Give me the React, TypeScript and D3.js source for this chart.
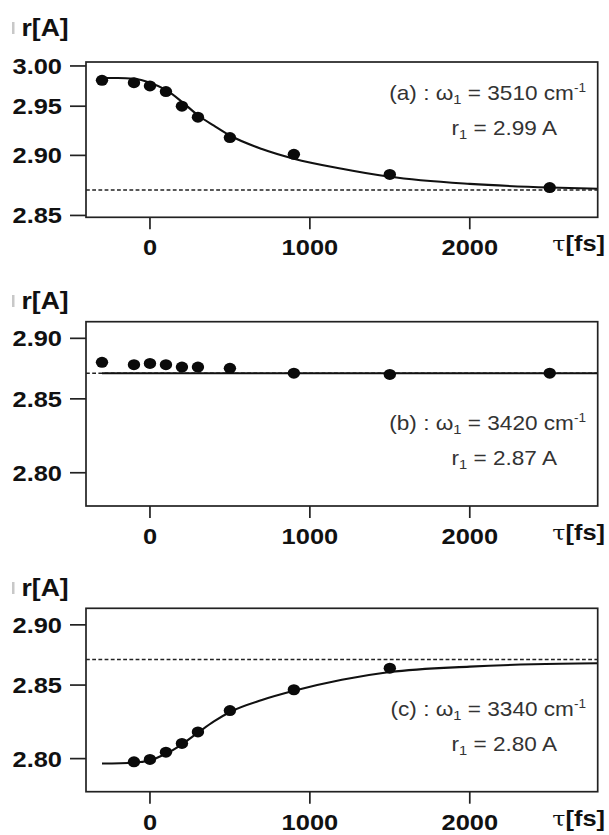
import React from "react";
import * as d3 from "d3";

const W = 609;
const H = 835;
const K = 4; // the r axis is linear in exp(-K r)
const SX = 1.13; // the original figure is stretched horizontally
const FONT = "'Liberation Sans', Arial, Helvetica, sans-serif";

// delay times (fs) and O-O distances (A)
const tauAB = [-300, -100, 0, 100, 200, 300, 500, 900, 1500, 2500];
const rA = [2.981, 2.978, 2.974, 2.967, 2.95, 2.938, 2.917, 2.901, 2.883, 2.872];
const rB = [2.879, 2.877, 2.878, 2.877, 2.875, 2.875, 2.874, 2.87, 2.869, 2.87];
const tauC = [-100, 0, 100, 200, 300, 500, 900, 1500];
const rC = [2.798, 2.7995, 2.804, 2.8095, 2.817, 2.8315, 2.8465, 2.863];

// fitted curves
const fitTauA = [-300, -200, -100, 0, 100, 200, 300, 400, 500, 700, 900, 1200, 1500, 2000, 2500, 2800];
const fitA = [2.984, 2.984, 2.983, 2.978, 2.969, 2.955, 2.94, 2.929, 2.919, 2.906, 2.897, 2.888, 2.881, 2.875, 2.872, 2.871];
const fitTauB = [-300, 2800];
const fitB = [2.87, 2.87];
const fitTauC = [-300, -100, 0, 100, 200, 300, 400, 500, 700, 900, 1200, 1500, 2000, 2400, 2800];
const fitC = [2.797, 2.7975, 2.799, 2.803, 2.809, 2.8165, 2.824, 2.8305, 2.839, 2.8457, 2.854, 2.86, 2.8643, 2.8662, 2.867];

const refR = 2.87;
const xTicks = [0, 1000, 2000];
const yTicksA = [3.0, 2.95, 2.9, 2.85];
const yTicksBC = [2.9, 2.85, 2.8];
const letters = ["a", "b", "c"];
const omegas = ["3510", "3420", "3340"];
const r1s = ["2.99", "2.87", "2.80"];

const LEFT = 86;
const RIGHT = 597.7;
const xScale = d3.scaleLinear().domain([-400, 2800]).range([LEFT, RIGHT]);

const panels = [
  { top: 62, bottom: 217.3, rLo: 2.8486, rHi: 3.0055, ticks: yTicksA, tau: tauAB, r: rA, fitTau: fitTauA, fit: fitA, titleY: 36, noteY: 99.5 },
  { top: 321.7, bottom: 506, rLo: 2.7804, rHi: 2.9157, ticks: yTicksBC, tau: tauAB, r: rB, fitTau: fitTauB, fit: fitB, titleY: 309, noteY: 430 },
  { top: 608.3, bottom: 791.7, rLo: 2.7804, rHi: 2.9157, ticks: yTicksBC, tau: tauC, r: rC, fitTau: fitTauC, fit: fitC, titleY: 596, noteY: 716 },
];

const T = ({ x, y, anchor = "start", size = 22, weight = "bold", fill = "#111", children }: any) => (
  <text
    transform={`translate(${x},${y}) scale(${SX},1)`}
    textAnchor={anchor}
    fontSize={size}
    fontWeight={weight}
    fontFamily={FONT}
    fill={fill}
  >
    {children}
  </text>
);

const Panel = ({ p, i }: any) => {
  const lin = d3
    .scaleLinear()
    .domain([Math.exp(-K * p.rLo), Math.exp(-K * p.rHi)])
    .range([p.bottom, p.top]);
  const y = (r: number) => lin(Math.exp(-K * r));
  const line = d3
    .line<number>()
    .x((t) => xScale(t))
    .y((_, j) => y(p.fit[j]))
    .curve(d3.curveMonotoneX);
  const clipId = `clip${i}`;

  return (
    <g>
      <defs>
        <clipPath id={clipId}>
          <rect x={LEFT} y={p.top} width={RIGHT - LEFT} height={p.bottom - p.top} />
        </clipPath>
      </defs>

      {/* axis title */}
      <rect x={12} y={p.titleY - 14} width={2.5} height={12} fill="#c8c8c8" />
      <T x={21.5} y={p.titleY} size={23.5}>r[A]</T>

      {/* y ticks */}
      {p.ticks.map((t: number) => (
        <g key={t}>
          <line x1={70} x2={LEFT} y1={y(t)} y2={y(t)} stroke="#222" strokeWidth={1.7} />
          <T x={62} y={y(t) + 8} anchor="end" size={22.5}>{t.toFixed(2)}</T>
        </g>
      ))}

      {/* x ticks */}
      {xTicks.map((t) => (
        <g key={t}>
          <line x1={xScale(t)} x2={xScale(t)} y1={p.bottom} y2={p.bottom + 12} stroke="#222" strokeWidth={1.7} />
          <T x={xScale(t)} y={p.bottom + 38} anchor="middle" size={22.5}>{t}</T>
        </g>
      ))}
      <text
        transform={`translate(605,${p.bottom + 34}) scale(${SX},1)`}
        textAnchor="end"
        fontSize={22.5}
        fill="#111"
      >
        <tspan fontFamily="'DejaVu Serif', 'Liberation Serif', serif" fontSize={21}>τ</tspan>
        <tspan fontFamily={FONT} fontWeight="bold">[fs]</tspan>
      </text>

      <g clipPath={`url(#${clipId})`}>
        <line
          x1={LEFT}
          x2={RIGHT}
          y1={y(refR)}
          y2={y(refR)}
          stroke="#222"
          strokeWidth={1.5}
          strokeDasharray="3.8,2.4"
        />
        <path d={line(p.fitTau) || ""} fill="none" stroke="#111" strokeWidth={2.1} />
        {p.tau.map((t: number, j: number) => (
          <ellipse key={t} cx={xScale(t)} cy={y(p.r[j])} rx={6.2} ry={5.5} fill="#0a0a0a" />
        ))}
      </g>

      <rect
        x={LEFT}
        y={p.top}
        width={RIGHT - LEFT}
        height={p.bottom - p.top}
        fill="none"
        stroke="#222"
        strokeWidth={1.7}
      />

      {/* annotation */}
      <T x={586} y={p.noteY} anchor="end" size={20} weight="normal" fill="#333">
        ({letters[i]}) : ω<tspan fontSize={13} dy={4}>1</tspan>
        <tspan dy={-4}> = {omegas[i]} cm</tspan>
        <tspan fontSize={12} dy={-8}>-1</tspan>
      </T>
      <T x={557} y={p.noteY + 35} anchor="end" size={20} weight="normal" fill="#333">
        r<tspan fontSize={13} dy={4}>1</tspan>
        <tspan dy={-4}> = {r1s[i]} A</tspan>
      </T>
    </g>
  );
};

export default function App() {
  return (
    <svg
      width={W}
      height={H}
      style={{ position: "absolute", left: 0, top: 0, background: "#fff" }}
    >
      <rect width={W} height={H} fill="#fff" />
      {panels.map((p, i) => (
        <Panel key={i} p={p} i={i} />
      ))}
    </svg>
  );
}
